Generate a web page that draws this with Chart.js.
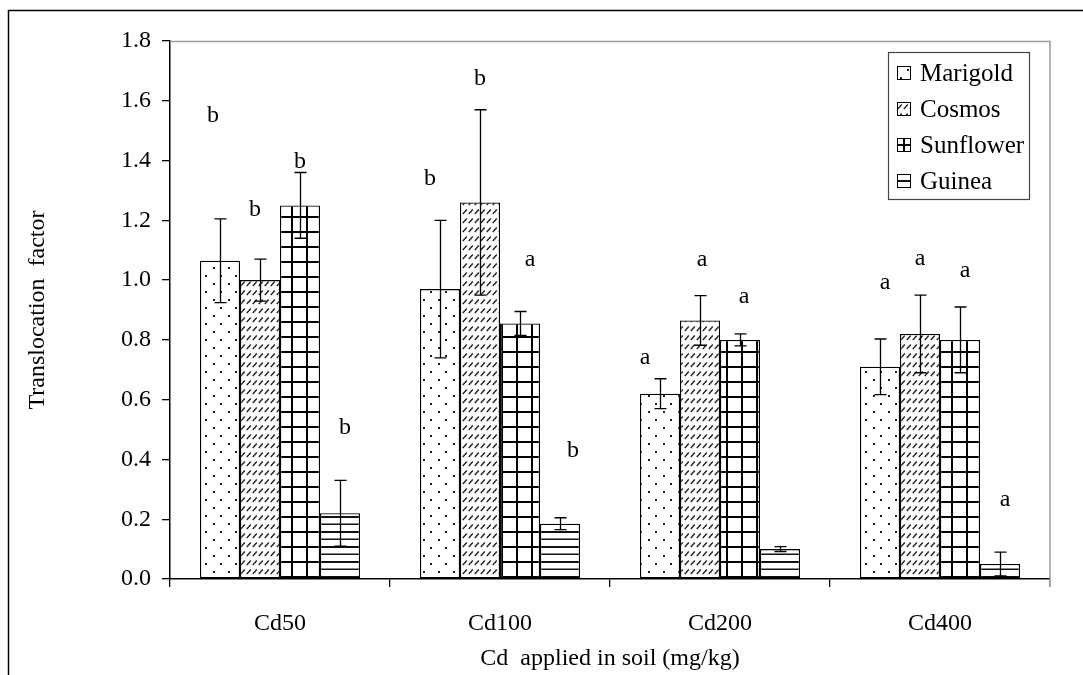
<!DOCTYPE html>
<html>
<head>
<meta charset="utf-8">
<script src="https://cdn.jsdelivr.net/npm/chart.js@4"></script>
<style>
  html, body { margin: 0; padding: 0; background: #fff; }
  #wrap { position: relative; width: 1083px; height: 675px; }
</style>
</head>
<body>
<div id="wrap"><canvas id="c" width="1083" height="675"></canvas></div>
<script>
// Treatments (Cd applied in soil)
const categories = ['Cd50', 'Cd100', 'Cd200', 'Cd400'];
const seriesNames = ['Marigold', 'Cosmos', 'Sunflower', 'Guinea'];

// Translocation factor means
const marigold  = [1.065, 0.97, 0.62, 0.71];
const cosmos    = [1.00, 1.26, 0.865, 0.82];
const sunflower = [1.25, 0.855, 0.80, 0.80];
const guinea    = [0.22, 0.185, 0.10, 0.05];

// Standard deviations (error bars)
const marigoldSd  = [0.14, 0.23, 0.05, 0.093];
const cosmosSd    = [0.07, 0.31, 0.083, 0.13];
const sunflowerSd = [0.11, 0.04, 0.02, 0.11];
const guineaSd    = [0.11, 0.02, 0.008, 0.04];

// Significance letters and the height where each sits
const marigoldLetters  = ['b', 'b', 'a', 'a'];
const cosmosLetters    = ['b', 'b', 'a', 'a'];
const sunflowerLetters = ['b', 'a', 'a', 'a'];
const guineaLetters    = ['b', 'b', '', 'a'];
const marigoldLetterY  = [1.55, 1.34, 0.742, 0.99];
const cosmosLetterY    = [1.234, 1.675, 1.067, 1.07];
const sunflowerLetterY = [1.395, 1.067, 0.943, 1.03];
const guineaLetterY    = [0.505, 0.43, 0.264, 0.264];

const yTicks = [0, 0.2, 0.4, 0.6, 0.8, 1.0, 1.2, 1.4, 1.6, 1.8];

const FONT = 'Liberation Serif';
const FS = 24;

// ---- hatch fills ----
function makePattern(kind) {
  const c = document.createElement('canvas');
  const g = c.getContext('2d');
  if (kind === 'dots') {
    c.width = 15; c.height = 16;
    g.fillStyle = '#fff'; g.fillRect(0, 0, 15, 16);
    g.fillStyle = '#222';
    g.fillRect(10, 3, 2, 2);
    g.fillRect(3, 11, 2, 2);
  } else if (kind === 'dash') {
    c.width = 6; c.height = 9;
    g.fillStyle = '#fff'; g.fillRect(0, 0, 6, 9);
    g.strokeStyle = '#222'; g.lineWidth = 1.4;
    g.beginPath(); g.moveTo(0.8, 7); g.lineTo(4.8, 2.5); g.stroke();
  } else if (kind === 'grid') {
    c.width = 15; c.height = 15;
    g.fillStyle = '#fff'; g.fillRect(0, 0, 15, 15);
    g.fillStyle = '#000';
    g.fillRect(6, 0, 2, 15);
    g.fillRect(0, 6, 15, 2);
  } else {
    c.width = 8; c.height = 15;
    g.fillStyle = '#fff'; g.fillRect(0, 0, 8, 15);
    g.fillStyle = '#111';
    g.fillRect(0, 6, 8, 2);
    g.fillRect(0, 13.5, 8, 1.5);
  }
  return g.createPattern(c, 'repeat');
}

const fills = [makePattern('dots'), makePattern('dash'), makePattern('grid'), makePattern('hlines')];
const values = [marigold, cosmos, sunflower, guinea];
const sds = [marigoldSd, cosmosSd, sunflowerSd, guineaSd];
const letters = [marigoldLetters, cosmosLetters, sunflowerLetters, guineaLetters];
const letterY = [marigoldLetterY, cosmosLetterY, sunflowerLetterY, guineaLetterY];

// horizontal nudges (px) so letters sit where they were typeset
const letterNudge = [
  [-7, -10, -15, 5],
  [-5, 0, 2, 0],
  [0, 10, 4, 5],
  [5, 13, 0, 5]
];

const datasets = seriesNames.map((name, i) => ({
  label: name,
  data: values[i],
  backgroundColor: fills[i],
  borderColor: '#000',
  borderWidth: 1.3,
  borderSkipped: false,
  categoryPercentage: 0.7273,
  barPercentage: 1.0
}));

// Outer frame, grey plot frame, error bars, letters and legend box
const decorations = {
  id: 'decorations',
  beforeDraw(chart) {
    const ctx = chart.ctx;
    ctx.save();
    ctx.strokeStyle = '#000';
    ctx.lineWidth = 1.5;
    ctx.strokeRect(8.5, 10.5, 1200, 800);
    ctx.restore();
  },
  afterDraw(chart) {
    const ctx = chart.ctx;
    const a = chart.chartArea;
    const ys = chart.scales.y;
    ctx.save();
    // grey frame on top and right of the plot
    ctx.strokeStyle = '#9a9a9a';
    ctx.lineWidth = 1.5;
    ctx.beginPath();
    ctx.moveTo(a.left, a.top + 0.5);
    ctx.lineTo(a.right, a.top + 0.5);
    ctx.lineTo(a.right, a.bottom + 8);
    ctx.stroke();

    // error bars
    ctx.strokeStyle = '#000';
    ctx.lineWidth = 1.3;
    chart.data.datasets.forEach((ds, i) => {
      const meta = chart.getDatasetMeta(i);
      meta.data.forEach((el, j) => {
        const v = ds.data[j], sd = sds[i][j];
        const yHi = ys.getPixelForValue(v + sd);
        const yLo = ys.getPixelForValue(Math.max(0, v - sd));
        const x = Math.round(el.x) + 0.5;
        ctx.beginPath();
        ctx.moveTo(x, yHi); ctx.lineTo(x, yLo);
        ctx.moveTo(x - 6, yHi); ctx.lineTo(x + 6, yHi);
        ctx.moveTo(x - 6, yLo); ctx.lineTo(x + 6, yLo);
        ctx.stroke();
      });
    });

    // significance letters
    ctx.fillStyle = '#000';
    ctx.font = FS + 'px "' + FONT + '"';
    ctx.textAlign = 'center';
    ctx.textBaseline = 'middle';
    chart.data.datasets.forEach((ds, i) => {
      const meta = chart.getDatasetMeta(i);
      meta.data.forEach((el, j) => {
        const t = letters[i][j];
        if (!t) return;
        ctx.fillText(t, el.x + letterNudge[i][j], ys.getPixelForValue(letterY[i][j]));
      });
    });

    // legend
    const lx = 888, ly = 52, lw = 141, lh = 147;
    ctx.fillStyle = '#fff';
    ctx.fillRect(lx, ly, lw, lh);
    ctx.strokeStyle = '#444';
    ctx.lineWidth = 1.2;
    ctx.strokeRect(lx + 0.5, ly + 0.5, lw, lh);
    ctx.textAlign = 'left';
    ctx.font = '25px "' + FONT + '"';
    chart.data.datasets.forEach((ds, i) => {
      const cy = ly + 21 + i * 36;
      ctx.save();
      ctx.translate(897, cy - 7);
      ctx.fillStyle = ds.backgroundColor;
      ctx.fillRect(0, 0, 14, 14);
      ctx.strokeStyle = '#000';
      ctx.lineWidth = 1;
      ctx.strokeRect(0.5, 0.5, 13, 13);
      ctx.restore();
      ctx.fillStyle = '#000';
      ctx.fillText(ds.label, 920, cy + 1);
    });
    ctx.restore();
  }
};

new Chart(document.getElementById('c'), {
  type: 'bar',
  data: { labels: categories, datasets },
  plugins: [decorations],
  options: {
    responsive: false,
    animation: false,
    layout: { padding: { left: 20, top: 41, right: 33, bottom: 0 } },
    plugins: { legend: { display: false }, tooltip: { enabled: false } },
    scales: {
      x: {
        offset: true,
        grid: {
          offset: true,
          drawOnChartArea: false,
          drawTicks: true,
          tickLength: 8,
          lineWidth: 1.3,
          color: (c) => (c.type === 'tick' ? '#000' : '#9a9a9a')
        },
        border: { display: true, color: '#000', width: 1.5 },
        ticks: { color: '#000', font: { family: FONT, size: FS }, padding: 22, maxRotation: 0 },
        title: {
          display: true,
          text: 'Cd  applied in soil (mg/kg)',
          color: '#000',
          font: { family: FONT, size: FS },
          padding: { top: 0, bottom: 2 }
        },
        afterFit(scale) { scale.height = 96; }
      },
      y: {
        min: 0,
        max: 1.8,
        afterBuildTicks(scale) { scale.ticks = yTicks.map(v => ({ value: v })); },
        grid: { drawOnChartArea: false, drawTicks: true, tickLength: 8, color: '#000', lineWidth: 1.3 },
        border: { display: true, color: '#000', width: 1.5 },
        ticks: {
          color: '#000',
          font: { family: FONT, size: FS },
          padding: 11,
          callback: (v) => Number(v).toFixed(1)
        },
        title: {
          display: true,
          text: 'Translocation  factor',
          color: '#000',
          font: { family: FONT, size: FS },
          padding: { top: 3, bottom: 0 }
        },
        afterFit(scale) { scale.width = 150; }
      }
    }
  }
});
</script>
</body>
</html>
